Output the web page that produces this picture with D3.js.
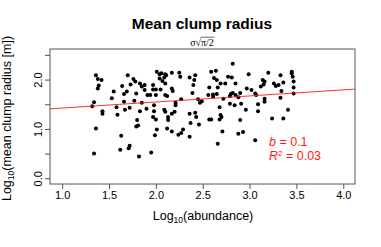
<!DOCTYPE html>
<html>
<head>
<meta charset="utf-8">
<script src="https://cdn.jsdelivr.net/npm/d3@7"></script>
<style>
  body { margin: 0; background: #fff; }
  text { font-family: "Liberation Sans", Arial, sans-serif; }
</style>
</head>
<body>
<div id="chart"></div>
<script>
// log10(abundance), log10(mean clump radius)
const points = [
  [1.36,2.09],[1.38,2.01],[1.42,1.99],[1.39,1.88],[1.38,1.82],[1.70,2.09],[1.76,2.01],[1.78,1.96],
  [1.83,1.92],[1.88,1.89],[1.64,1.87],[1.73,1.90],[1.85,1.86],[1.69,1.76],[1.66,1.71],[1.55,1.76],
  [1.53,1.62],[1.79,1.72],[1.91,1.69],[1.94,1.69],[1.88,1.79],[1.97,1.80],[1.66,1.55],[1.77,1.57],
  [1.85,1.53],[1.34,1.54],[1.32,1.46],[1.58,1.44],[1.67,1.39],[1.72,1.43],[1.90,1.41],[1.83,1.36],
  [1.43,1.36],[1.43,1.31],[1.59,1.29],[1.80,1.18],[1.81,1.07],[1.79,1.05],[1.36,1.01],[1.63,0.86],
  [1.72,0.66],[1.71,0.61],[1.62,0.58],[1.34,0.50],[1.82,0.44],[1.95,0.52],
  [2.01,2.16],[2.04,2.11],[2.06,2.13],[2.10,2.11],[2.11,2.09],[2.09,2.04],[2.04,2.02],[2.07,1.97],
  [2.10,1.92],[2.17,2.14],[2.25,2.14],[2.26,2.06],[2.36,2.04],[2.42,2.09],[2.41,1.99],[2.40,1.89],
  [2.59,2.16],[2.64,2.18],[2.62,2.03],[2.65,1.99],[2.57,1.84],[2.66,1.84],[1.97,1.89],[2.00,1.80],
  [2.05,1.80],[2.17,1.82],[2.18,1.77],[2.00,1.69],[2.10,1.69],[2.12,1.67],[2.39,1.73],[2.56,1.69],
  [2.61,1.70],[2.65,1.71],[2.61,1.65],[2.45,1.60],[2.49,1.56],[2.47,1.53],[2.27,1.60],[2.21,1.53],
  [2.21,1.48],[1.98,1.48],[2.09,1.39],[2.10,1.35],[2.20,1.35],[2.17,1.31],[1.98,1.36],[1.97,1.24],
  [2.00,1.19],[2.13,1.24],[2.13,1.18],[2.36,1.31],[2.42,1.33],[2.43,1.24],[2.37,1.12],[2.46,1.09],
  [2.59,1.19],[2.57,1.19],[2.01,0.99],[1.99,0.87],[2.12,1.01],[2.17,0.95],[2.29,0.99],[2.27,0.92],
  [2.24,0.88],[2.36,0.84],[2.66,0.70],
  [2.82,2.32],[2.77,2.06],[2.81,2.04],[2.69,1.92],[2.74,1.92],[2.85,1.92],[2.99,2.11],[3.20,2.14],
  [3.33,2.09],[3.14,1.99],[3.16,1.96],[3.15,1.90],[3.26,1.92],[3.36,1.94],[3.12,1.86],[3.28,1.87],
  [3.31,1.89],[2.97,1.82],[3.02,1.79],[2.90,1.73],[2.80,1.71],[2.82,1.73],[2.79,1.67],[2.85,1.69],
  [2.88,1.64],[3.06,1.72],[3.07,1.69],[3.16,1.61],[2.72,1.61],[2.79,1.51],[2.91,1.51],[2.84,1.48],
  [2.96,1.39],[3.09,1.50],[3.16,1.55],[3.09,1.36],[2.68,1.44],[2.69,1.28],[2.70,1.24],[2.68,1.19],
  [2.90,1.18],[3.24,1.21],[3.36,1.21],[2.71,0.95],[2.88,0.90],[2.93,0.94],[3.06,0.77],
  [3.45,2.16],[3.45,2.13],[3.46,2.06],[3.47,1.96],[3.47,1.84],[3.47,1.72],[3.34,1.77],[3.33,1.63],
  [3.41,1.39]
];

const xTicks = [1.0, 1.5, 2.0, 2.5, 3.0, 3.5, 4.0];
const yTicks = [0.0, 0.5, 1.0, 1.5, 2.0, 2.5];
const yLabelled = [0.0, 1.0, 2.0];

const fitIntercept = 1.30;
const fitSlope = 0.123;
const statB = "0.1";
const statR2 = "0.03";

const width = 381, height = 247;
const box = { left: 50, right: 355, top: 49, bottom: 184 };
const red = "#ff1a1a";

const svg = d3.select("#chart").append("svg")
  .attr("width", width)
  .attr("height", height);

const x = d3.scaleLinear().domain([0.87, 4.125]).range([box.left, box.right]);
const y = d3.scaleLinear().domain([-0.116, 2.62]).range([box.bottom, box.top]);

// title
svg.append("text")
  .attr("x", 202).attr("y", 28.5)
  .attr("text-anchor", "middle")
  .style("font-size", "15.5px").style("font-weight", "bold")
  .text("Mean clump radius");

// subtitle sigma * sqrt(pi/2)
const serif = "'Liberation Serif', serif";
const sub = svg.append("g");
const sigma = sub.append("text").attr("y", 46).style("font-family", serif).style("font-size", "10px").text("σ");
const rad = sub.append("text").attr("y", 46).style("font-family", serif).style("font-size", "10px").text("√");
const arg = sub.append("text").attr("y", 46).style("font-family", serif).style("font-size", "10px").text("π/2");
const wS = sigma.node().getComputedTextLength();
const wR = rad.node().getComputedTextLength();
const wA = arg.node().getComputedTextLength();
const subStart = 202 - (wS + wR + wA) / 2;
sigma.attr("x", subStart);
rad.attr("x", subStart + wS);
arg.attr("x", subStart + wS + wR);
sub.append("line")
  .attr("x1", subStart + wS + wR - 0.5).attr("x2", subStart + wS + wR + wA + 0.5)
  .attr("y1", 37.2).attr("y2", 37.2)
  .attr("stroke", "#000").attr("stroke-width", 0.6);

// points
svg.append("g")
  .selectAll("circle")
  .data(points)
  .join("circle")
  .attr("cx", d => x(d[0]))
  .attr("cy", d => y(d[1]))
  .attr("r", 2)
  .attr("fill", "#000");

// regression line
const xd = x.domain();
svg.append("line")
  .attr("x1", x(xd[0])).attr("y1", y(fitIntercept + fitSlope * xd[0]))
  .attr("x2", x(xd[1])).attr("y2", y(fitIntercept + fitSlope * xd[1]))
  .attr("stroke", red).attr("stroke-width", 0.9);

// box
svg.append("rect")
  .attr("x", box.left).attr("y", box.top)
  .attr("width", box.right - box.left).attr("height", box.bottom - box.top)
  .attr("fill", "none").attr("stroke", "#555").attr("stroke-width", 1);

// x axis
const xAxis = svg.append("g")
  .attr("transform", `translate(0,${box.bottom})`)
  .call(d3.axisBottom(x).tickValues(xTicks).tickSize(5).tickPadding(2).tickFormat(d3.format(".1f")));
xAxis.select(".domain").remove();
xAxis.selectAll("line").attr("stroke", "#555");
xAxis.selectAll("text").style("font-size", "11px").attr("fill", "#000")
  .style("font-family", "'Liberation Sans', Arial, sans-serif");

// y axis
const yAxis = svg.append("g")
  .attr("transform", `translate(${box.left},0)`)
  .call(d3.axisLeft(y).tickValues(yTicks).tickSize(5)
    .tickFormat(d => yLabelled.includes(d) ? d3.format(".1f")(d) : ""));
yAxis.select(".domain").remove();
yAxis.selectAll("line").attr("stroke", "#555");
yAxis.selectAll("text")
  .attr("x", null).attr("dy", null)
  .attr("transform", "translate(-8,0) rotate(-90)")
  .attr("text-anchor", "middle")
  .attr("fill", "#000")
  .style("font-size", "11px")
  .style("font-family", "'Liberation Sans', Arial, sans-serif");

// axis titles
const xt = svg.append("text")
  .attr("x", 203).attr("y", 220)
  .attr("text-anchor", "middle")
  .style("font-size", "12.5px");
xt.append("tspan").text("Log");
xt.append("tspan").attr("dy", 3).style("font-size", "8.5px").text("10");
xt.append("tspan").attr("dy", -3).text("(abundance)");

const yt = svg.append("text")
  .attr("transform", `translate(11,${(box.top + box.bottom) / 2 + 2}) rotate(-90)`)
  .attr("text-anchor", "middle")
  .style("font-size", "12.5px");
yt.append("tspan").text("Log");
yt.append("tspan").attr("dy", 3).style("font-size", "8.5px").text("10");
yt.append("tspan").attr("dy", -3).text("(mean clump radius [m])");

// fit statistics
const st = svg.append("g").attr("fill", red).style("font-size", "12.5px");
const t1 = st.append("text").attr("x", 269).attr("y", 146);
t1.append("tspan").style("font-style", "italic").text("b");
t1.append("tspan").text(" = " + statB);
const t2 = st.append("text").attr("x", 269).attr("y", 159.5);
t2.append("tspan").style("font-style", "italic").text("R");
t2.append("tspan").attr("dy", -4).style("font-size", "8px").text("2");
t2.append("tspan").attr("dy", 4).text(" = " + statR2);
</script>
</body>
</html>
